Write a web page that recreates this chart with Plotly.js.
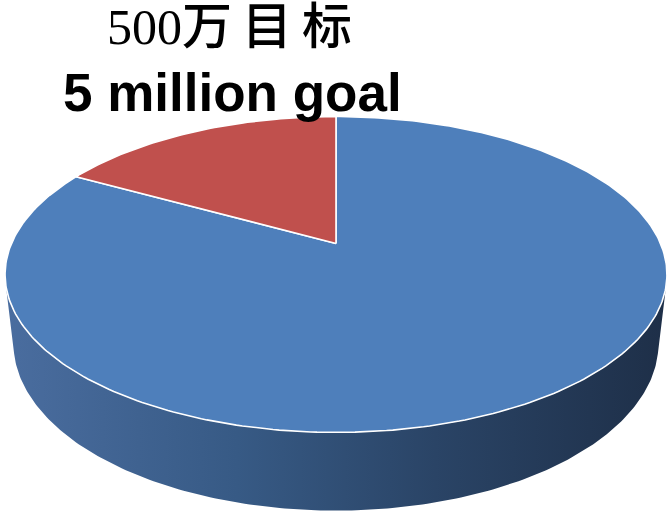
<!DOCTYPE html>
<html>
<head>
<meta charset="utf-8">
<script src="https://cdn.plot.ly/plotly-3.0.1.min.js"></script>
<style>html,body{margin:0;padding:0;background:#fff;}#chart{width:671px;height:515px;}</style>
</head>
<body>
<div id="chart"></div>
<script>
// ---- data ----
const sliceNames = ['Blue', 'Red'];
const sliceShares = [83, 17];          // clockwise from 12 o'clock
const titleZh = '500万\u2009目\u2009标';
const titleEn = '5 million goal';

// ---- styles ----
const sliceColors = ['#4e7fbb', '#c0504d'];
const sideScale = [[0, '#4a6d9f'], [0.35, '#375a85'], [0.65, '#2a4466'], [1, '#1e2f48']];

// ---- perspective geometry (layout constants) ----
const W = 671, H = 515;
const cx = 336, cy = 243.5, k = 1462.6;
const sA = 0.468, cA = Math.sqrt(1 - sA * sA), Dist = 4.507, depth = 0.2426;

function proj(X, Y, Z) {
  const d = Dist + Y * cA - Z * sA;
  const sx = X / d;
  const sy = (Y * sA + Z * cA) / d;
  return [cx + k * sx, cy - k * sy];
}
function arc(a0, a1, z, n) {
  const pts = [];
  for (let i = 0; i <= n; i++) {
    const p = a0 + (a1 - a0) * i / n;
    pts.push(proj(Math.cos(p), Math.sin(p), z));
  }
  return pts;
}

const traces = [];
// side (visible front wall)
const sil = Math.asin(1 / (Dist * cA));
const phL = Math.PI + sil, phR = 2 * Math.PI - sil;
const sidePts = arc(phL, phR, 0, 200).concat(arc(phR, phL, -depth, 200));
traces.push({
  type: 'scatter', mode: 'lines', fill: 'toself',
  x: sidePts.map(p => p[0]), y: sidePts.map(p => p[1]),
  line: {width: 0, color: 'rgba(0,0,0,0)'},
  fillcolor: '#2f4e75',
  fillgradient: {type: 'horizontal', colorscale: sideScale},
  hoverinfo: 'skip', showlegend: false
});

// top face slices, clockwise from 12 o'clock
const total = sliceShares.reduce((a, b) => a + b, 0);
let start = Math.PI / 2;
sliceShares.forEach((v, i) => {
  const end = start - 2 * Math.PI * v / total;
  const n = Math.max(20, Math.round(400 * v / total));
  const pts = [proj(0, 0, 0)].concat(arc(start, end, 0, n)).concat([proj(0, 0, 0)]);
  traces.push({
    type: 'scatter', mode: 'lines', fill: 'toself', name: sliceNames[i],
    x: pts.map(p => p[0]), y: pts.map(p => p[1]),
    line: {width: 1.6, color: '#ffffff'},
    fillcolor: sliceColors[i],
    hoverinfo: 'name', showlegend: false
  });
  start = end;
});

const layout = {
  width: W, height: H,
  margin: {l: 0, r: 0, t: 0, b: 0},
  paper_bgcolor: '#ffffff', plot_bgcolor: '#ffffff',
  xaxis: {range: [0, W], visible: false, fixedrange: true},
  yaxis: {range: [H, 0], visible: false, fixedrange: true},
  showlegend: false,
  annotations: [
    {
      xref: 'paper', yref: 'paper', x: 229 / W, y: 1 - 27 / H,
      xanchor: 'center', yanchor: 'middle', showarrow: false,
      text: titleZh,
      font: {family: 'Liberation Serif, Noto Sans CJK SC, serif', size: 50, color: '#000', weight: 500}
    },
    {
      xref: 'paper', yref: 'paper', x: 232 / W, y: 1 - 92 / H,
      xanchor: 'center', yanchor: 'middle', showarrow: false,
      text: '<b>' + titleEn + '</b>',
      font: {family: 'Liberation Sans, Arial, sans-serif', size: 53, color: '#000'}
    }
  ]
};

Plotly.newPlot('chart', traces, layout, {displayModeBar: false, staticPlot: true});
</script>
</body>
</html>
